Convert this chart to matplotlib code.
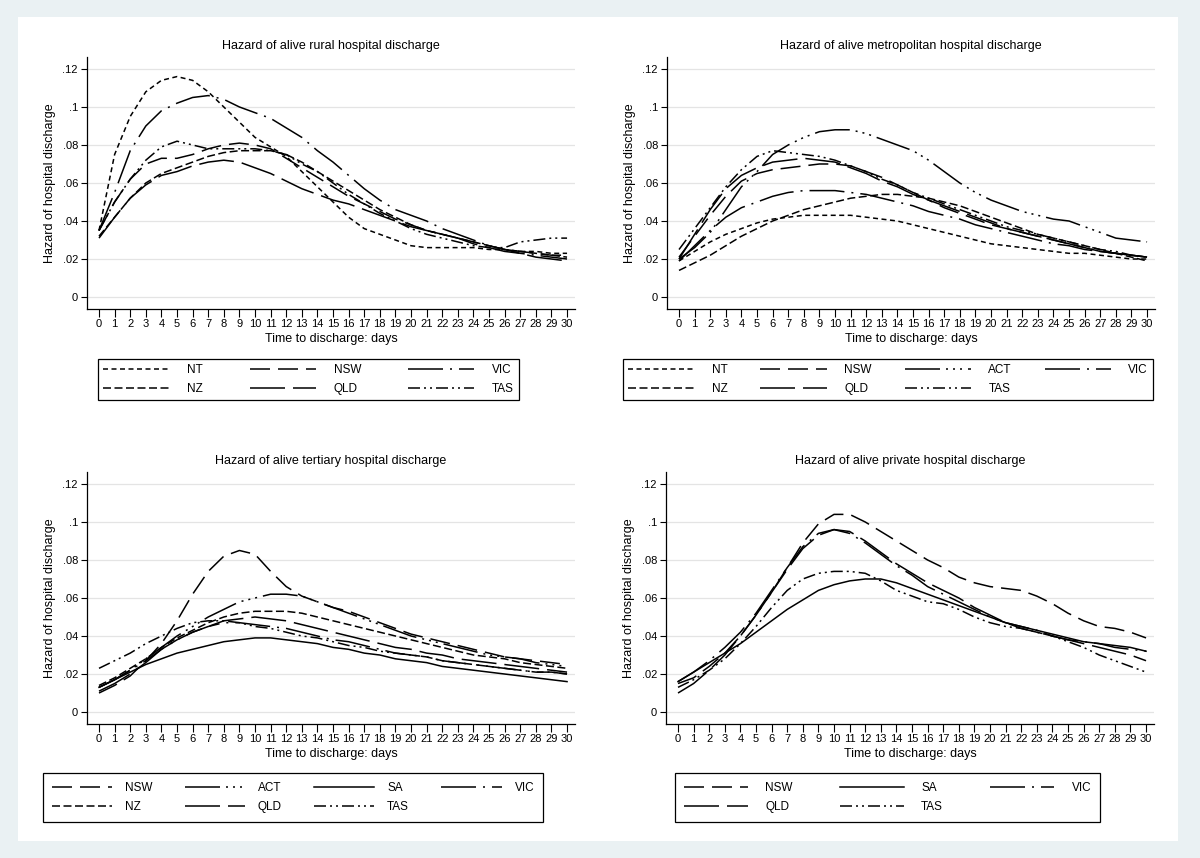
import matplotlib
matplotlib.use('Agg')
import matplotlib.pyplot as plt
from matplotlib.patches import Rectangle

plt.rcParams['font.family'] = ['Liberation Sans', 'DejaVu Sans']
plt.rcParams['lines.scale_dashes'] = False

# ---------------- data ----------------
days = list(range(31))
xtick_labels = [str(d) for d in days]
ytick_values = [0, 0.02, 0.04, 0.06, 0.08, 0.10, 0.12]
ytick_labels = ['0', '.02', '.04', '.06', '.08', '.1', '.12']

# Rural
rural_NT = [0.035, 0.075, 0.095, 0.108, 0.114, 0.116, 0.114, 0.108, 0.100, 0.092, 0.084, 0.079, 0.074, 0.066, 0.058,
            0.050, 0.042, 0.036, 0.033, 0.030, 0.027, 0.026, 0.026, 0.026, 0.026, 0.025, 0.025, 0.024, 0.024, 0.023, 0.023]
rural_NZ = [0.032, 0.042, 0.052, 0.060, 0.065, 0.068, 0.071, 0.074, 0.076, 0.077, 0.077, 0.077, 0.075, 0.071, 0.066,
            0.061, 0.056, 0.051, 0.046, 0.042, 0.038, 0.035, 0.033, 0.031, 0.029, 0.027, 0.025, 0.024, 0.023, 0.022, 0.021]
rural_NSW = [0.035, 0.050, 0.062, 0.070, 0.073, 0.073, 0.075, 0.078, 0.080, 0.081, 0.080, 0.078, 0.073, 0.068, 0.063,
             0.058, 0.053, 0.049, 0.045, 0.041, 0.038, 0.035, 0.033, 0.031, 0.029, 0.027, 0.025, 0.024, 0.023, 0.022, 0.022]
rural_QLD = [0.031, 0.042, 0.052, 0.059, 0.064, 0.066, 0.069, 0.071, 0.072, 0.071, 0.068, 0.065, 0.061, 0.057, 0.054,
             0.051, 0.049, 0.046, 0.043, 0.040, 0.037, 0.035, 0.033, 0.031, 0.028, 0.026, 0.024, 0.023, 0.021, 0.020, 0.019]
rural_VIC = [0.035, 0.055, 0.077, 0.090, 0.098, 0.102, 0.105, 0.106, 0.104, 0.100, 0.097, 0.094, 0.089, 0.084, 0.077,
             0.071, 0.064, 0.057, 0.051, 0.046, 0.043, 0.040, 0.036, 0.033, 0.030, 0.027, 0.025, 0.023, 0.022, 0.021, 0.020]
rural_TAS = [0.035, 0.050, 0.062, 0.072, 0.079, 0.082, 0.080, 0.078, 0.078, 0.078, 0.078, 0.077, 0.075, 0.070, 0.066,
             0.060, 0.054, 0.049, 0.044, 0.040, 0.036, 0.033, 0.031, 0.029, 0.027, 0.026, 0.026, 0.029, 0.030, 0.031, 0.031]

# Metropolitan
metro_NT = [0.019, 0.024, 0.029, 0.033, 0.036, 0.039, 0.041, 0.042, 0.043, 0.043, 0.043, 0.043, 0.042, 0.041, 0.040,
            0.038, 0.036, 0.034, 0.032, 0.030, 0.028, 0.027, 0.026, 0.025, 0.024, 0.023, 0.023, 0.022, 0.021, 0.020, 0.020]
metro_NZ = [0.014, 0.018, 0.022, 0.027, 0.032, 0.036, 0.040, 0.043, 0.046, 0.048, 0.050, 0.052, 0.053, 0.054, 0.054,
            0.053, 0.052, 0.050, 0.048, 0.045, 0.042, 0.039, 0.036, 0.033, 0.031, 0.029, 0.027, 0.025, 0.023, 0.021, 0.019]
metro_NSW = [0.021, 0.032, 0.043, 0.053, 0.061, 0.065, 0.067, 0.068, 0.069, 0.070, 0.070, 0.069, 0.066, 0.063, 0.059,
             0.055, 0.051, 0.047, 0.044, 0.041, 0.038, 0.036, 0.034, 0.032, 0.030, 0.028, 0.026, 0.024, 0.023, 0.022, 0.021]
metro_QLD = [0.020, 0.033, 0.046, 0.057, 0.064, 0.068, 0.071, 0.072, 0.073, 0.072, 0.071, 0.068, 0.065, 0.061, 0.058,
             0.054, 0.051, 0.048, 0.045, 0.042, 0.039, 0.036, 0.034, 0.032, 0.030, 0.028, 0.026, 0.024, 0.023, 0.022, 0.021]
metro_ACT = [0.020, 0.026, 0.034, 0.046, 0.058, 0.066, 0.075, 0.080, 0.084, 0.087, 0.088, 0.088, 0.086, 0.083, 0.080,
             0.077, 0.072, 0.066, 0.060, 0.055, 0.051, 0.048, 0.045, 0.043, 0.041, 0.040, 0.037, 0.034, 0.031, 0.030, 0.029]
metro_TAS = [0.025, 0.036, 0.047, 0.058, 0.067, 0.074, 0.077, 0.076, 0.075, 0.074, 0.072, 0.069, 0.066, 0.062, 0.059,
             0.055, 0.052, 0.049, 0.046, 0.043, 0.040, 0.037, 0.035, 0.033, 0.031, 0.029, 0.027, 0.025, 0.024, 0.022, 0.021]
metro_VIC = [0.019, 0.027, 0.035, 0.042, 0.047, 0.050, 0.053, 0.055, 0.056, 0.056, 0.056, 0.055, 0.054, 0.052, 0.050,
             0.048, 0.045, 0.043, 0.041, 0.038, 0.036, 0.034, 0.032, 0.030, 0.028, 0.027, 0.025, 0.024, 0.023, 0.022, 0.021]

# Tertiary
tert_NSW = [0.010, 0.014, 0.019, 0.027, 0.036, 0.048, 0.062, 0.074, 0.082, 0.085, 0.083, 0.074, 0.066, 0.061, 0.058,
            0.055, 0.053, 0.050, 0.047, 0.044, 0.041, 0.039, 0.037, 0.035, 0.033, 0.031, 0.029, 0.028, 0.027, 0.026, 0.025]
tert_NZ = [0.014, 0.018, 0.023, 0.028, 0.034, 0.039, 0.043, 0.047, 0.050, 0.052, 0.053, 0.053, 0.053, 0.052, 0.050,
           0.048, 0.046, 0.044, 0.042, 0.040, 0.038, 0.036, 0.034, 0.032, 0.030, 0.029, 0.028, 0.026, 0.025, 0.024, 0.023]
tert_ACT = [0.013, 0.017, 0.022, 0.028, 0.034, 0.040, 0.045, 0.050, 0.054, 0.058, 0.060, 0.062, 0.062, 0.061, 0.058,
            0.055, 0.052, 0.049, 0.046, 0.043, 0.040, 0.038, 0.036, 0.034, 0.032, 0.030, 0.029, 0.028, 0.026, 0.025, 0.024]
tert_QLD = [0.011, 0.015, 0.020, 0.026, 0.033, 0.038, 0.042, 0.045, 0.048, 0.049, 0.050, 0.049, 0.048, 0.046, 0.044,
            0.042, 0.040, 0.038, 0.036, 0.034, 0.033, 0.031, 0.030, 0.028, 0.027, 0.026, 0.025, 0.024, 0.023, 0.022, 0.021]
tert_SA = [0.013, 0.017, 0.021, 0.025, 0.028, 0.031, 0.033, 0.035, 0.037, 0.038, 0.039, 0.039, 0.038, 0.037, 0.036,
           0.034, 0.033, 0.031, 0.030, 0.028, 0.027, 0.026, 0.024, 0.023, 0.022, 0.021, 0.020, 0.019, 0.018, 0.017, 0.016]
tert_TAS = [0.023, 0.027, 0.031, 0.036, 0.040, 0.044, 0.047, 0.048, 0.048, 0.047, 0.045, 0.044, 0.042, 0.040, 0.039,
            0.037, 0.035, 0.034, 0.032, 0.031, 0.030, 0.029, 0.027, 0.026, 0.025, 0.024, 0.023, 0.022, 0.021, 0.021, 0.020]
tert_VIC = [0.013, 0.017, 0.022, 0.027, 0.033, 0.038, 0.042, 0.045, 0.047, 0.047, 0.046, 0.045, 0.044, 0.042, 0.040,
            0.038, 0.037, 0.035, 0.033, 0.031, 0.030, 0.029, 0.027, 0.026, 0.025, 0.024, 0.023, 0.022, 0.021, 0.021, 0.020]

# Private
priv_NSW = [0.015, 0.018, 0.024, 0.031, 0.040, 0.051, 0.063, 0.076, 0.089, 0.099, 0.104, 0.104, 0.100, 0.095, 0.090,
            0.085, 0.080, 0.076, 0.071, 0.068, 0.066, 0.065, 0.064, 0.061, 0.057, 0.052, 0.048, 0.045, 0.044, 0.042, 0.039]
priv_QLD = [0.010, 0.015, 0.022, 0.030, 0.040, 0.051, 0.063, 0.075, 0.086, 0.093, 0.096, 0.095, 0.090, 0.084, 0.078,
            0.073, 0.068, 0.064, 0.060, 0.055, 0.051, 0.047, 0.044, 0.042, 0.040, 0.038, 0.036, 0.034, 0.032, 0.030, 0.027]
priv_SA = [0.016, 0.021, 0.026, 0.031, 0.036, 0.042, 0.048, 0.054, 0.059, 0.064, 0.067, 0.069, 0.070, 0.070, 0.068,
           0.065, 0.062, 0.059, 0.056, 0.053, 0.050, 0.047, 0.045, 0.043, 0.041, 0.039, 0.037, 0.036, 0.035, 0.034, 0.032]
priv_TAS = [0.013, 0.017, 0.022, 0.028, 0.036, 0.045, 0.055, 0.064, 0.070, 0.073, 0.074, 0.074, 0.073, 0.069, 0.064,
            0.061, 0.058, 0.057, 0.054, 0.050, 0.047, 0.045, 0.044, 0.042, 0.040, 0.037, 0.034, 0.030, 0.027, 0.024, 0.021]
priv_VIC = [0.016, 0.021, 0.027, 0.034, 0.042, 0.052, 0.064, 0.076, 0.087, 0.094, 0.096, 0.094, 0.089, 0.083, 0.077,
            0.072, 0.066, 0.062, 0.058, 0.054, 0.050, 0.047, 0.045, 0.043, 0.040, 0.038, 0.037, 0.036, 0.034, 0.033, 0.032]

titles = ['Hazard of alive rural hospital discharge',
          'Hazard of alive metropolitan hospital discharge',
          'Hazard of alive tertiary hospital discharge',
          'Hazard of alive private hospital discharge']
xlabel = 'Time to discharge: days'
ylabel = 'Hazard of hospital discharge'

panel_series = [
    [('NT', rural_NT), ('NZ', rural_NZ), ('NSW', rural_NSW), ('QLD', rural_QLD), ('VIC', rural_VIC), ('TAS', rural_TAS)],
    [('NT', metro_NT), ('NZ', metro_NZ), ('NSW', metro_NSW), ('QLD', metro_QLD), ('ACT', metro_ACT), ('TAS', metro_TAS),
     ('VIC', metro_VIC)],
    [('NSW', tert_NSW), ('NZ', tert_NZ), ('ACT', tert_ACT), ('QLD', tert_QLD), ('SA', tert_SA), ('TAS', tert_TAS),
     ('VIC', tert_VIC)],
    [('NSW', priv_NSW), ('QLD', priv_QLD), ('SA', priv_SA), ('TAS', priv_TAS), ('VIC', priv_VIC)],
]
legend_ncols = [3, 4, 4, 3]

# ---------------- styling ----------------
PX = 72.0 / 100.0


def pat(*px):
    return (0, tuple(p * PX for p in px))


styles = {
    'NT': pat(5, 3.5),
    'NZ': pat(8, 3.5),
    'NSW': pat(20, 8),
    'QLD': pat(35, 8),
    'VIC': pat(35, 7, 2, 7),
    'TAS': pat(12, 4, 2, 4, 2, 4),
    'ACT': pat(35, 6, 2, 5, 2, 5, 2, 6),
    'SA': '-',
}

W, H = 1200, 858
fig = plt.figure(figsize=(W / 100, H / 100), dpi=100)
fig.patch.set_facecolor('#eaf1f3')
fig.patches.append(Rectangle((18 / W, 1 - 841 / H), (1178 - 18) / W, (841 - 17) / H,
                             transform=fig.transFigure, facecolor='white', edgecolor='none', zorder=-5))

# axes rects in pixels: left, top, right, bottom
ax_rects = [(87, 57, 575, 309), (667, 57, 1155, 309), (87, 472, 575, 724), (666, 472, 1154, 724)]
# legend boxes in pixels: left, top, right, bottom
leg_rects = [(98, 357, 519, 402), (623, 357, 1153, 402), (43, 771, 543, 824), (675, 771, 1100, 824)]
leg_pads = [0.42, 0.42, 0.75, 0.75]
leg_hlen = [5.6, 5.6, 5.1, 5.4]
leg_hpad = [1.5, 1.5, 1.1, 1.5]

for i in range(4):
    l, t, r, b = ax_rects[i]
    ax = fig.add_axes([l / W, 1 - b / H, (r - l) / W, (b - t) / H])
    ax.set_facecolor('white')
    for name, vals in panel_series[i]:
        ax.plot(days, vals, color='black', lw=1.1, linestyle=styles[name], label=name)
    ax.set_xlim(-0.77, 30.51)
    ax.set_ylim(-0.0063, 0.1263)
    ax.set_xticks(days)
    ax.set_xticklabels(xtick_labels)
    ax.set_yticks(ytick_values)
    ax.set_yticklabels(ytick_labels)
    ax.yaxis.grid(True, color='#e4e4e4', lw=0.9)
    ax.set_axisbelow(True)
    for s in ['top', 'right']:
        ax.spines[s].set_visible(False)
    for s in ['left', 'bottom']:
        ax.spines[s].set_linewidth(0.9)
        ax.spines[s].set_color('black')
    ax.tick_params(axis='y', direction='out', length=4.5, width=0.8, labelsize=8, pad=2)
    ax.tick_params(axis='x', direction='out', length=5.5, width=0.8, labelsize=8, pad=2)
    ax.set_title(titles[i], fontsize=9, pad=6)
    ax.set_xlabel(xlabel, fontsize=9, labelpad=2.5)
    ax.set_ylabel(ylabel, fontsize=9, labelpad=5)

    ll, lt, lr, lb = leg_rects[i]
    handles, labels = ax.get_legend_handles_labels()
    leg = fig.legend(handles, labels, loc='center', ncol=legend_ncols[i], mode='expand',
                     bbox_to_anchor=(ll / W, 1 - lb / H, (lr - ll) / W, (lb - lt) / H),
                     bbox_transform=fig.transFigure, borderaxespad=0,
                     fontsize=8.5, frameon=True, fancybox=False, framealpha=1,
                     edgecolor='black', handlelength=leg_hlen[i], handletextpad=leg_hpad[i],
                     labelspacing=0.62, borderpad=leg_pads[i], columnspacing=2.0)
    leg.get_frame().set_linewidth(0.9)

fig.savefig('out.png', dpi=100, facecolor=fig.get_facecolor())
